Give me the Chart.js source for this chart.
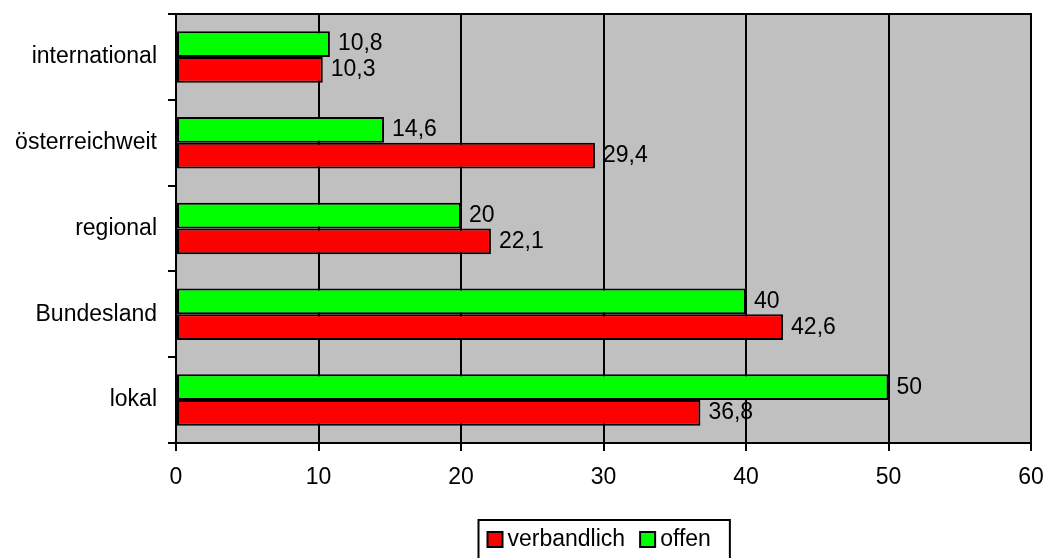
<!DOCTYPE html>
<html>
<head>
<meta charset="utf-8">
<script src="https://cdn.jsdelivr.net/npm/chart.js@4"></script>
<style>
html,body{margin:0;padding:0;background:#fff;}
#wrap{width:1045px;height:558px;}
</style>
</head>
<body>
<div id="wrap"><canvas id="c" width="1045" height="558"></canvas></div>
<script>
const categories = ["international", "österreichweit", "regional", "Bundesland", "lokal"];
const offenValues = [10.8, 14.6, 20, 40, 50];
const verbandlichValues = [10.3, 29.4, 22.1, 42.6, 36.8];
const xTicks = [0, 10, 20, 30, 40, 50, 60];
const seriesNames = ["offen", "verbandlich"];

const FONT = "'Liberation Sans', Arial, sans-serif";
const FS = 23;
Chart.defaults.font.family = FONT;
Chart.defaults.font.size = FS;
Chart.defaults.color = "#000";

const fmt = v => String(v).replace(".", ",");

const bgPlugin = {
  id: "bg",
  beforeDraw(chart) {
    const {ctx, chartArea: a} = chart;
    ctx.save();
    ctx.fillStyle = "#C0C0C0";
    ctx.fillRect(a.left, a.top, a.right - a.left, a.bottom - a.top);
    ctx.restore();
  },
  afterDatasetsDraw(chart) {
    const {ctx} = chart;
    ctx.save();
    ctx.fillStyle = "#000";
    ctx.font = FS + "px " + FONT;
    ctx.textAlign = "left";
    ctx.textBaseline = "middle";
    chart.data.datasets.forEach((ds, di) => {
      const meta = chart.getDatasetMeta(di);
      meta.data.forEach((bar, i) => {
        ctx.fillText(fmt(ds.data[i]), bar.x + 8, bar.y);
      });
    });
    ctx.restore();
  },
  afterDraw(chart) {
    const {ctx, chartArea: a} = chart;
    ctx.save();
    ctx.strokeStyle = "#000";
    ctx.lineWidth = 2;
    ctx.beginPath();
    ctx.moveTo(a.left, a.top);
    ctx.lineTo(a.right, a.top);
    ctx.lineTo(a.right, a.bottom);
    ctx.stroke();

    // legend (reverse dataset order)
    ctx.font = FS + "px " + FONT;
    const items = chart.data.datasets.slice().reverse();
    const padL = 8, padR = 20, sq = 15, gap = 5, itemGap = 15;
    let total = padL + padR;
    items.forEach((ds, i) => {
      total += sq + gap + ctx.measureText(ds.label).width + (i < items.length - 1 ? itemGap : 0);
    });
    const boxLeft = Math.round((a.left + a.right) / 2 - total / 2) + 0.5;
    const boxTop = 520;
    ctx.lineWidth = 2;
    ctx.strokeRect(boxLeft, boxTop, total, 60);
    let x = boxLeft + padL + 1;
    const cy = 539.5;
    ctx.textAlign = "left";
    ctx.textBaseline = "middle";
    items.forEach((ds) => {
      ctx.fillStyle = ds.backgroundColor;
      ctx.fillRect(x, cy - sq / 2, sq, sq);
      ctx.lineWidth = 2;
      ctx.strokeStyle = "#000";
      ctx.strokeRect(x, cy - sq / 2, sq, sq);
      x += sq + gap;
      ctx.fillStyle = "#000";
      ctx.fillText(ds.label, x, cy);
      x += ctx.measureText(ds.label).width + itemGap;
    });
    ctx.restore();
  }
};

new Chart(document.getElementById("c"), {
  type: "bar",
  data: {
    labels: categories,
    datasets: [
      {label: seriesNames[0], data: offenValues, backgroundColor: "#00FF00", borderColor: "#000", borderWidth: 2, borderSkipped: false},
      {label: seriesNames[1], data: verbandlichValues, backgroundColor: "#FF0000", borderColor: "#000", borderWidth: 2, borderSkipped: false}
    ]
  },
  options: {
    indexAxis: "y",
    responsive: false,
    animation: false,
    devicePixelRatio: 1,
    layout: {padding: {top: 14, right: 14, bottom: 0, left: 0}},
    datasets: {bar: {categoryPercentage: 0.6, barPercentage: 1}},
    scales: {
      x: {
        min: 0, max: 60,
        afterBuildTicks: s => { s.ticks = xTicks.map(v => ({value: v})); },
        afterFit: s => { s.height = 115; s.paddingLeft = 0; s.paddingRight = 0; },
        grid: {color: "#000", lineWidth: 2, drawOnChartArea: true, drawTicks: true, tickLength: 8, tickColor: "#000"},
        border: {color: "#000", width: 2},
        ticks: {padding: 13, color: "#000", font: {size: FS}}
      },
      y: {
        grid: {offset: true, color: "#000", lineWidth: 2, drawOnChartArea: false, drawTicks: true, tickLength: 8},
        border: {color: "#000", width: 2},
        ticks: {padding: 11, color: "#000", font: {size: FS}},
        afterFit: s => { s.width = 176; s.paddingTop = 0; s.paddingBottom = 0; }
      }
    },
    plugins: {
      legend: {display: false},
      tooltip: {enabled: false}
    }
  },
  plugins: [bgPlugin]
});
</script>
</body>
</html>
